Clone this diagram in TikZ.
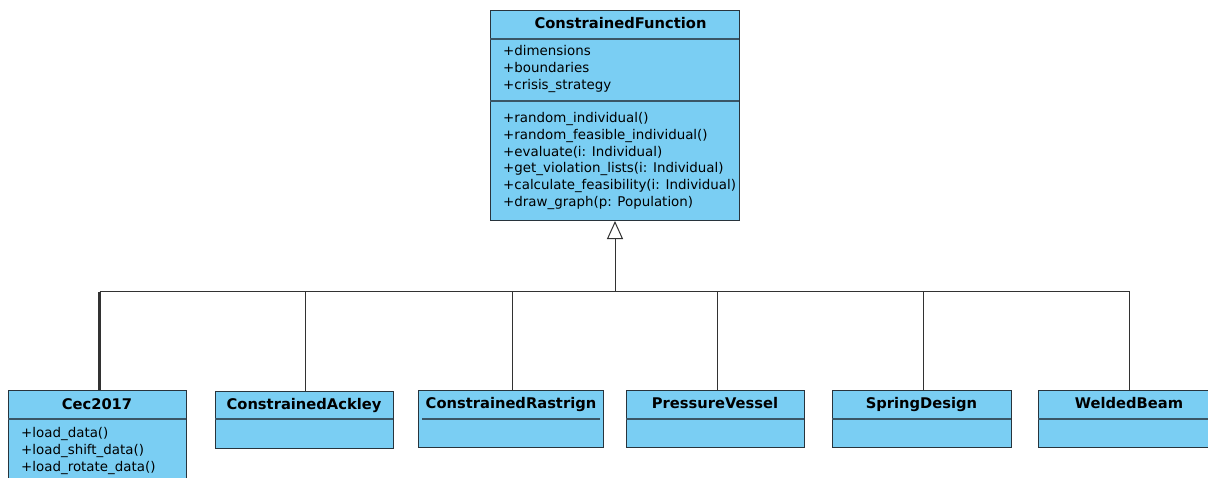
\documentclass[tikz,border=0pt]{standalone}
\usepackage{fontspec}
\setmainfont{DejaVu Sans}
\usetikzlibrary{arrows.meta}
\definecolor{clsfill}{RGB}{122,206,243}
\definecolor{clsline}{RGB}{40,52,60}
\definecolor{divline}{RGB}{58,86,102}
\definecolor{conn}{RGB}{50,50,50}
\tikzset{
  cls/.style={draw=clsline, fill=clsfill, line width=1pt, rectangle, inner sep=0pt, anchor=north west},
  ctitle/.style={font=\bfseries\fontsize{14.7}{17}\selectfont, inner sep=0pt, anchor=base},
  member/.style={font=\fontsize{13.4}{16}\selectfont, inner sep=0pt, anchor=base west},
  divider/.style={draw=divline, line width=1.2pt},
  connector/.style={draw=conn, line width=1pt},
  genarrow/.style={-{Triangle[open, width=16pt, length=18pt, line width=1pt]}}
}
\begin{document}
\begin{tikzpicture}[x=1pt,y=-1pt]
\useasboundingbox (0,0) rectangle (1208,477);
\clip (0,0) rectangle (1208,477);
\fill[white] (0,0) rectangle (1208,477);

% main class
\node[cls, minimum width=249pt, minimum height=210pt] (cf) at (490,10) {};
\node[ctitle] (cft) at (620.5,28) {ConstrainedFunction};
\draw[divider] (490,39) -- (739,39);
\draw[divider] (490,101) -- (739,101);
\node[member] (a1) at (503,55) {+dimensions};
\node[member] (a2) at (503,72) {+boundaries};
\node[member] (a3) at (503,89) {+crisis\_strategy};
\node[member] (m1) at (503,122) {+random\_individual()};
\node[member] (m2) at (503,139) {+random\_feasible\_individual()};
\node[member] (m3) at (503,156) {+evaluate(i: Individual)};
\node[member] (m4) at (503,172) {+get\_violation\_lists(i: Individual)};
\node[member] (m5) at (503,189) {+calculate\_feasibility(i: Individual)};
\node[member] (m6) at (503,206) {+draw\_graph(p: Population)};

% subclasses
\node[cls, minimum width=178pt, minimum height=92pt] (cec) at (8,390) {};
\node[ctitle] (cect) at (97,409) {Cec2017};
\draw[divider] (8,419) -- (186,419);
\node[member] (c1) at (21,437) {+load\_data()};
\node[member] (c2) at (21,454) {+load\_shift\_data()};
\node[member] (c3) at (21,471) {+load\_rotate\_data()};

\node[cls, minimum width=178pt, minimum height=57pt] (ack) at (215,391) {};
\node[ctitle] (ackt) at (304,409) {ConstrainedAckley};
\draw[divider] (215,419) -- (393,419);

\node[cls, minimum width=185pt, minimum height=57pt] (ras) at (418,390) {};
\node[ctitle] (rast) at (511,408) {ConstrainedRastrign};
\draw[divider] (422,419) -- (600,419);

\node[cls, minimum width=178pt, minimum height=57pt] (pv) at (626,390) {};
\node[ctitle] (pvt) at (715,408) {PressureVessel};
\draw[divider] (626,419) -- (804,419);

\node[cls, minimum width=179pt, minimum height=57pt] (sd) at (832,390) {};
\node[ctitle] (sdt) at (921.5,408) {SpringDesign};
\draw[divider] (832,419) -- (1011,419);

\node[cls, minimum width=182pt, minimum height=57pt] (wb) at (1038,390) {};
\node[ctitle] (wbt) at (1129,408) {WeldedBeam};
\draw[divider] (1038,419) -- (1220,419);

% generalization
\coordinate (bus) at (cf.south |- 0,291);
\draw[connector, genarrow] (bus) -- (cf.south);
\coordinate (cectop) at ([xshift=2pt]cec.north);
\coordinate (cecjoin) at (cectop |- bus);
\draw[connector, line width=2.2pt] (cectop) -- ([yshift=-1pt]cecjoin);
\draw[connector] (cecjoin) -- (bus);
\draw[connector] ([xshift=1pt]ack.north) |- (bus);
\draw[connector] ([xshift=1.5pt]ras.north) |- (bus);
\draw[connector] ([xshift=2pt]pv.north) |- (bus);
\draw[connector] ([xshift=1.5pt]sd.north) |- (bus);
\draw[connector] (wb.north) |- (bus);
\end{tikzpicture}
\end{document}
